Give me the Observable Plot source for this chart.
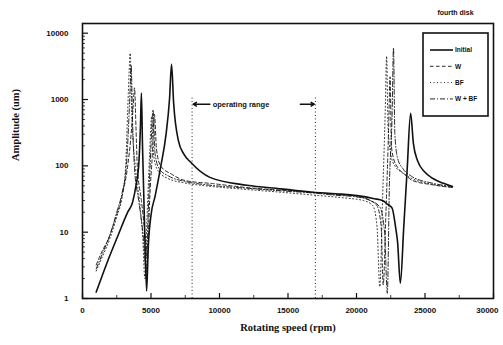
<!DOCTYPE html>
<html>
<head>
<meta charset="utf-8">
<script src="https://cdn.jsdelivr.net/npm/d3@7"></script>
<script src="https://cdn.jsdelivr.net/npm/@observablehq/plot@0.6"></script>
<style>
  body { margin: 0; background: #fff; }
  #wrap { position: relative; width: 503px; height: 345px; }
  #legend { position: absolute; left: 0; top: 0; pointer-events: none; }
</style>
</head>
<body>
<div id="wrap"></div>
<script>
// ---- data ----
const rpmInitial = [1000,1800,2600,3300,3650,3900,4100,4230,4300,4380,4520,4680,4800,5000,5300,5700,6100,6350,6500,6650,7000,7400,7900,9300,12000,14500,16800,18500,20300,21300,21900,22300,22600,22850,23000,23200,23450,23700,23950,24150,24450,25000,25550,26300,27000];
const ampInitial = [1.25,3.5,9,20,28,50,100,400,1250,200,15,1.3,6,18,35,95,300,1000,3400,900,240,150,113,67,51,45,40,38,35,32,30,26,23,12,7,1.7,12,90,620,220,120,80,65,55,49];

const rpmW = [1000,1400,1900,2400,2900,3300,3550,3700,3800,3900,4000,4300,4600,4750,4900,5100,5250,5400,5700,6500,7500,9500,12000,14500,16800,18500,20000,21000,21500,21800,21950,22150,22350,22450,22550,22700,23000,23500,24100,25500,27000];
const ampW = [3.2,5,8,16,36,100,300,800,1500,400,100,30,8,4,30,150,600,180,100,75,60,54,47,43,40,37,35,30,25,12,1.6,20,400,2200,200,130,95,75,60,52,47];

const rpmBF = [1000,1500,2000,2500,2900,3150,3300,3400,3480,3600,3900,4200,4400,4550,4700,4900,5050,5200,5500,6200,7500,9000,12000,14500,17000,19000,20500,21200,21500,21700,21900,22100,22200,22300,22500,22800,23300,24000,25500,27000];
const ampBF = [2.6,4.5,8,17,35,100,700,2500,5000,600,80,25,8,2,15,150,550,140,85,65,55,50,44,40,36,33,30,25,12,1.5,30,700,4500,400,150,100,80,65,53,48];

const rpmWBF = [1000,1500,2000,2500,2900,3200,3400,3480,3550,3650,3800,4100,4450,4650,4800,5000,5150,5300,5600,6300,7500,9000,12000,14500,16800,18500,20000,21000,21700,22050,22250,22400,22600,22700,22800,23000,23400,24000,25500,27000];
const ampWBF = [2.8,5,9,20,40,100,600,1500,3300,500,90,30,8,2.5,20,200,700,150,90,70,58,52,46,42,39,36,34,30,24,10,1.2,50,600,6000,300,130,90,70,55,49];

const seriesNames = ["Initial", "W", "BF", "W+BF"];
const seriesLabels = ["Initial", "W", "BF", "W + BF"];
const xTicks = [0, 5000, 10000, 15000, 20000, 25000, 30000];
const xMinor = [2500, 7500, 12500, 17500, 22500, 27500];
const yTicks = [1, 10, 100, 1000, 10000];
const yMinor = [];
for (const dec of [1, 10, 100, 1000]) for (let k = 2; k <= 9; k++) yMinor.push(dec * k);
const opRange = [8000, 17000];
const opLabel = "operating range";
const title = "fourth disk";
const xLabel = "Rotating speed (rpm)";
const yLabel = "Amplitude (um)";

// ---- styles ----
const styles = {
  "Initial": {strokeWidth: 1.6, dash: null},
  "W": {strokeWidth: 0.9, dash: "3.5,2.5"},
  "BF": {strokeWidth: 0.9, dash: "1,2.5"},
  "W+BF": {strokeWidth: 0.9, dash: "5,2,1,2"}
};

const toRows = (xs, ys) => xs.map((x, i) => ({x, y: ys[i]}));
const data = {
  "Initial": toRows(rpmInitial, ampInitial),
  "W": toRows(rpmW, ampW),
  "BF": toRows(rpmBF, ampBF),
  "W+BF": toRows(rpmWBF, ampWBF)
};

const W = 503, H = 345, mL = 82, mR = 10, mT = 23, mB = 47;
const innerW = W - mL - mR, innerH = H - mT - mB;
const ink = "#111";

const lines = seriesNames.map(name => Plot.line(data[name], {
  x: "x", y: "y", stroke: ink,
  strokeWidth: styles[name].strokeWidth,
  strokeDasharray: styles[name].dash,
  curve: "monotone-x",
  clip: true
}));

const tickLabel = {tickSize: 0, tickPadding: 9, fontSize: 8, fontWeight: "bold", tickFormat: d => String(d), label: null, fill: ink};

const chart = Plot.plot({
  width: W, height: H,
  marginLeft: mL, marginRight: mR, marginTop: mT, marginBottom: mB,
  x: {domain: [0, 30000]},
  y: {type: "log", domain: [1, 14000]},
  style: {fontFamily: "'Liberation Sans', Arial, sans-serif", background: "#fff"},
  marks: [
    Plot.axisY(yTicks, {tickSize: 0, tickPadding: 14, fontSize: 8, fontWeight: "bold", tickFormat: d => String(d), label: null, fill: ink}),
    Plot.axisX(xTicks.slice(0, -1), tickLabel),
    Plot.axisX(xTicks.slice(-1), {...tickLabel, textAnchor: "end", dx: 5}),
    Plot.tickY(yTicks, {y: d => d, insetRight: innerW - 6, stroke: ink, strokeWidth: 1.2}),
    Plot.tickY(yMinor, {y: d => d, insetRight: innerW - 3, stroke: ink, strokeWidth: 0.8}),
    Plot.tickX(xTicks, {x: d => d, insetTop: innerH - 5, stroke: ink, strokeWidth: 1.2}),
    Plot.tickX(xMinor, {x: d => d, insetTop: innerH - 3, stroke: ink, strokeWidth: 0.8}),
    Plot.ruleX(opRange, {x: d => d, y1: 1, y2: 1150, stroke: ink, strokeWidth: 0.9, strokeDasharray: "1,2.5"}),
    ...lines,
    Plot.arrow([opRange], {x1: d => d[0] + 1300, x2: d => d[0] + 80, y1: 850, y2: 850, stroke: ink, strokeWidth: 1.4, headLength: 4, bend: 0}),
    Plot.arrow([opRange], {x1: d => d[1] - 1100, x2: d => d[1] - 80, y1: 850, y2: 850, stroke: ink, strokeWidth: 1.4, headLength: 4, bend: 0}),
    Plot.text([opLabel], {x: 11570, y: 850, text: d => d, fontSize: 7.5, fontWeight: "bold", fill: ink}),
    Plot.frame({stroke: ink, strokeWidth: 1.6}),
    Plot.text([yLabel], {frameAnchor: "left", dx: -67, rotate: -90, text: d => d, fontSize: 10.5, fontWeight: "bold", fontFamily: "'Liberation Serif', 'Times New Roman', serif", fill: ink}),
    Plot.text([xLabel], {frameAnchor: "bottom", dy: 32, text: d => d, fontSize: 10.5, fontWeight: "bold", fontFamily: "'Liberation Serif', 'Times New Roman', serif", fill: ink}),
    Plot.text([title], {frameAnchor: "top-right", dx: -38, dy: -13, textAnchor: "middle", text: d => d, fontSize: 7, fontWeight: "bold", fill: ink})
  ]
});

const wrap = document.getElementById("wrap");
wrap.appendChild(chart);

// ---- legend box (inside the plot area, top right) ----
const ns = "http://www.w3.org/2000/svg";
const leg = document.createElementNS(ns, "svg");
leg.setAttribute("id", "legend");
leg.setAttribute("width", W);
leg.setAttribute("height", H);
const box = document.createElementNS(ns, "rect");
box.setAttribute("x", 423); box.setAttribute("y", 33);
box.setAttribute("width", 65); box.setAttribute("height", 83);
box.setAttribute("fill", "#fff"); box.setAttribute("stroke", ink); box.setAttribute("stroke-width", 1.6);
leg.appendChild(box);
seriesNames.forEach((name, i) => {
  const yy = 50 + i * 16.3;
  const ln = document.createElementNS(ns, "line");
  ln.setAttribute("x1", 430); ln.setAttribute("x2", 453);
  ln.setAttribute("y1", yy); ln.setAttribute("y2", yy);
  ln.setAttribute("stroke", ink);
  ln.setAttribute("stroke-width", styles[name].strokeWidth);
  if (styles[name].dash) ln.setAttribute("stroke-dasharray", styles[name].dash);
  leg.appendChild(ln);
  const tx = document.createElementNS(ns, "text");
  tx.setAttribute("x", 455); tx.setAttribute("y", yy + 2.2);
  tx.setAttribute("font-size", 6.5); tx.setAttribute("font-weight", "bold");
  tx.setAttribute("font-family", "'Liberation Sans', Arial, sans-serif");
  tx.setAttribute("fill", ink);
  tx.textContent = seriesLabels[i];
  leg.appendChild(tx);
});
wrap.appendChild(leg);
</script>
</body>
</html>
